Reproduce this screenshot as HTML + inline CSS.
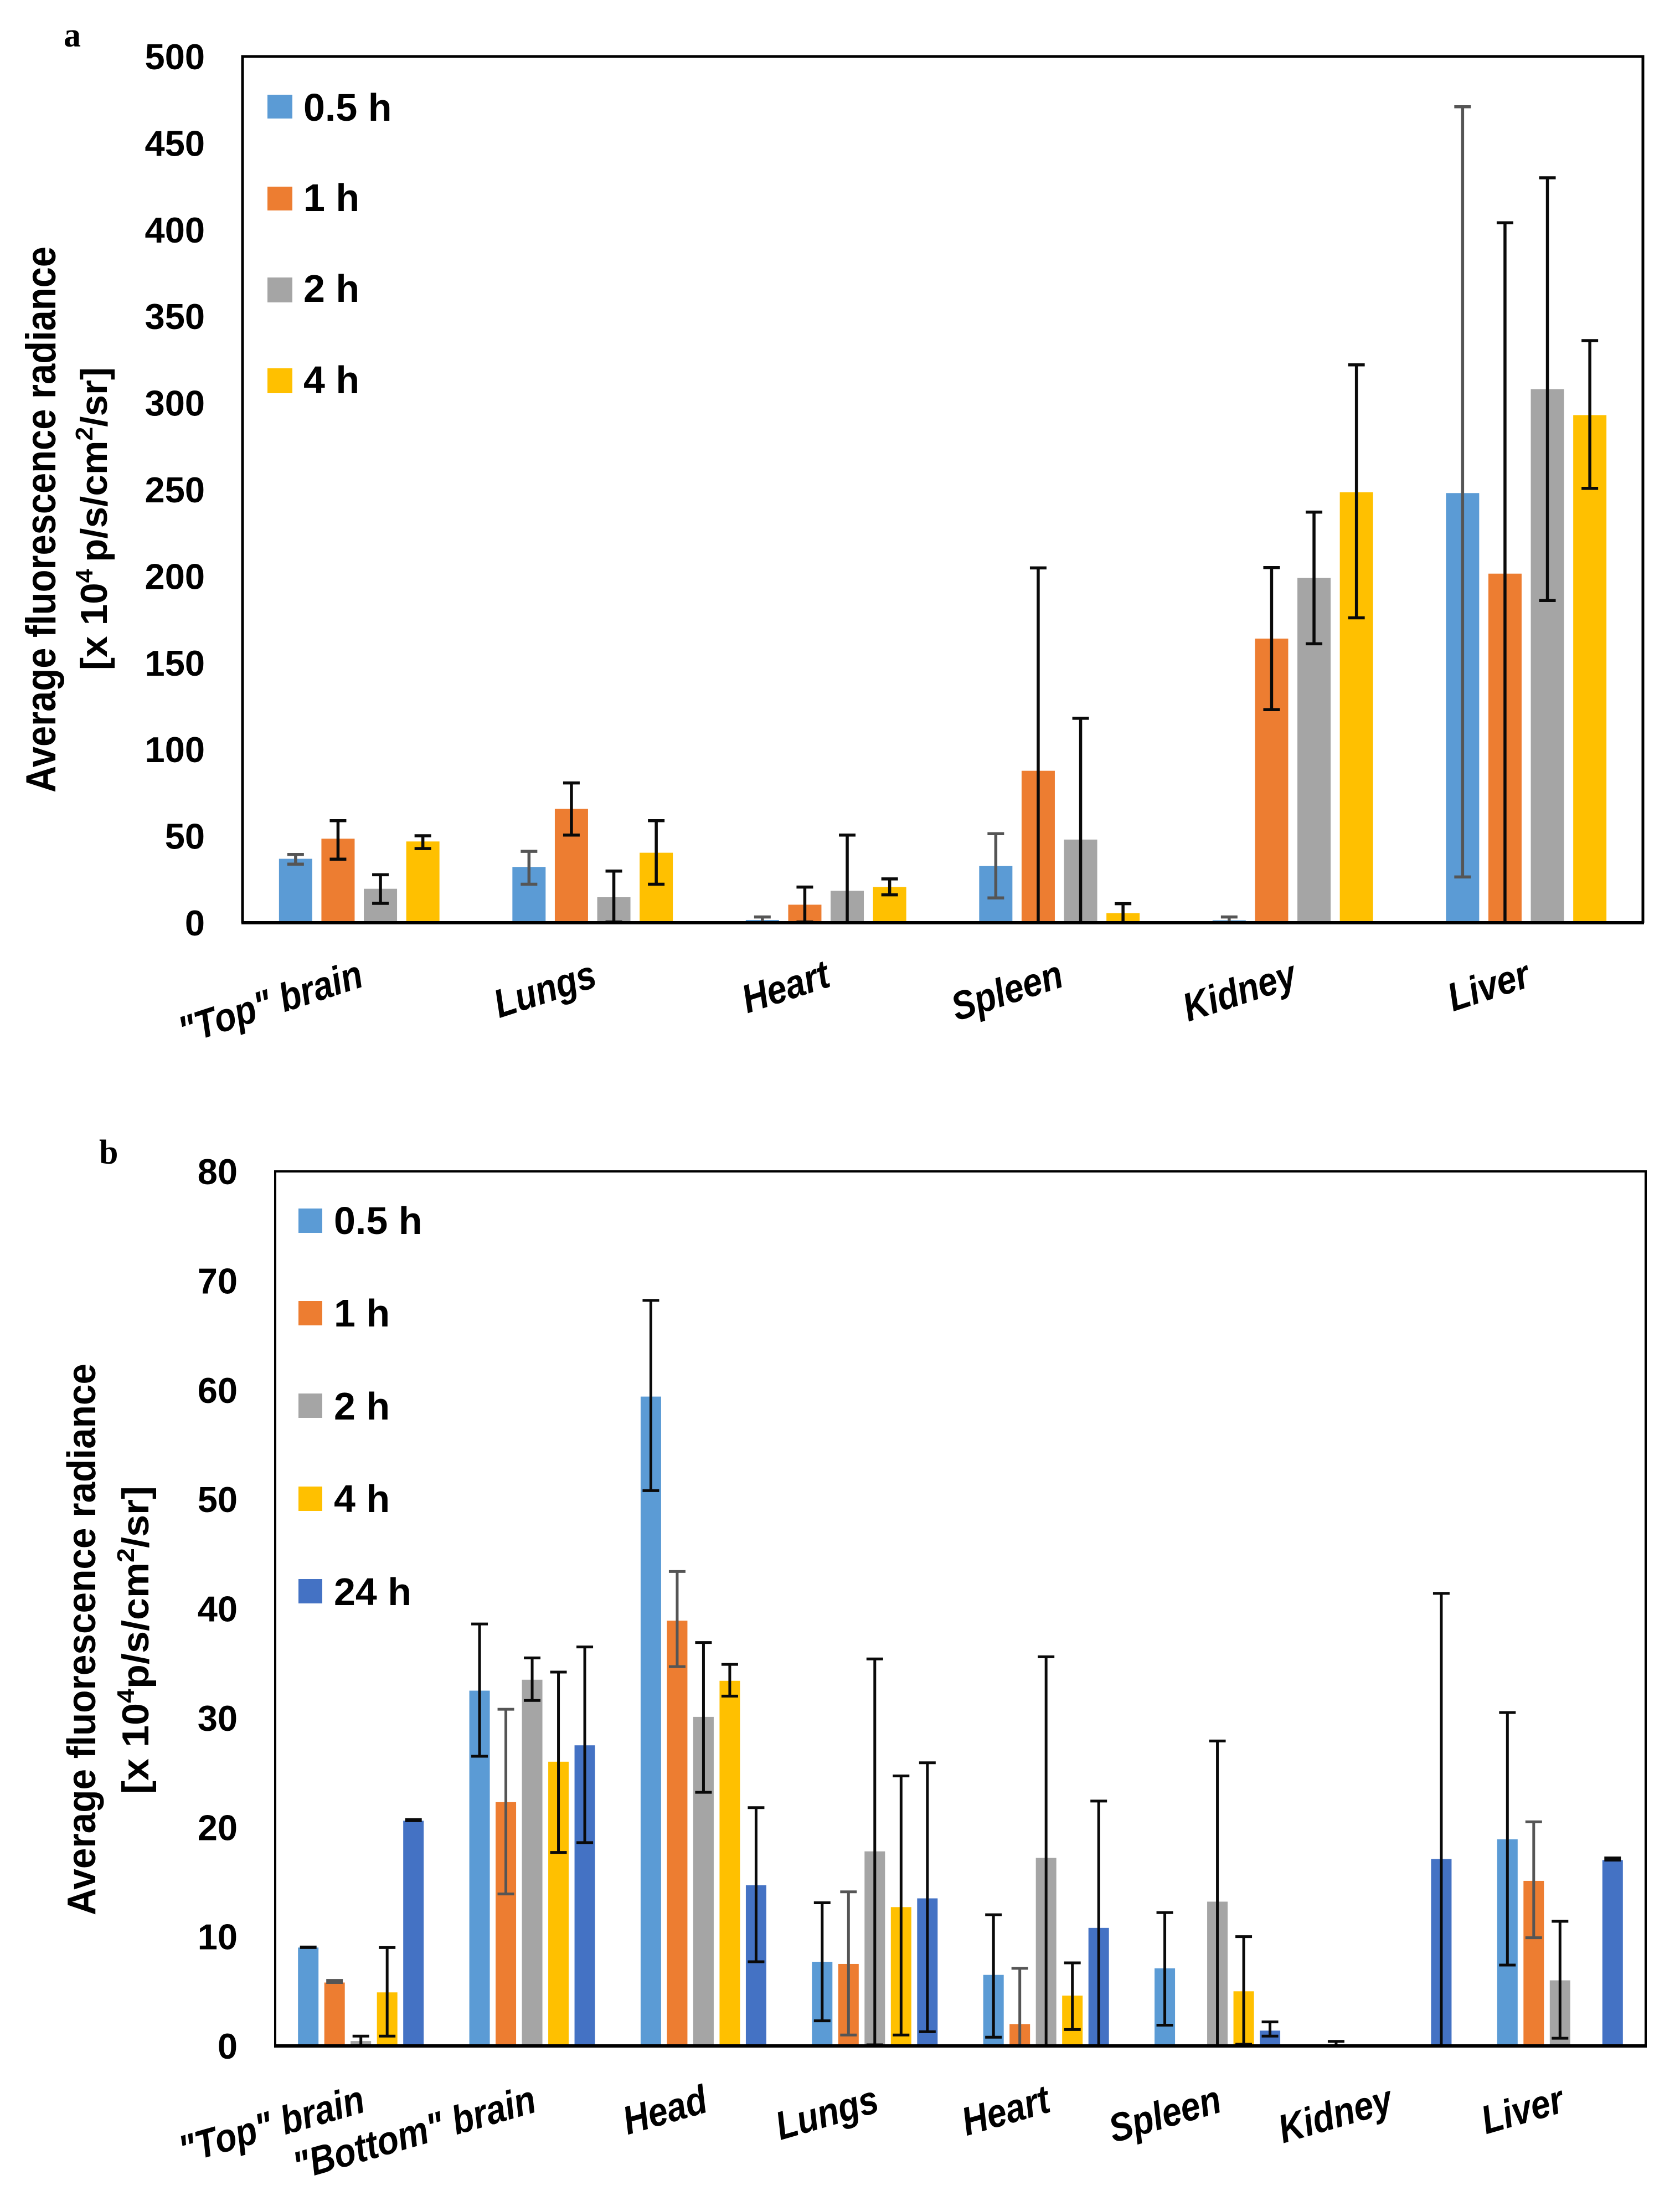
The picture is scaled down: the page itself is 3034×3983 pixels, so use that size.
<!DOCTYPE html>
<html lang="en">
<head>
<meta charset="utf-8">
<title>Average fluorescence radiance by organ and time</title>
<style>
html,body{margin:0;padding:0;background:#fff;}
svg{display:block;}
text{font-family:"Liberation Sans",sans-serif;font-weight:bold;fill:#000;}
</style>
</head>
<body>
<svg id="figure" xmlns="http://www.w3.org/2000/svg" width="3034" height="3983" viewBox="0 0 3034 3983">
<rect x="0" y="0" width="3034" height="3983" fill="#fff"/>

<text x="115" y="84" style="font-family:'Liberation Serif',serif;font-size:62px;">a</text>
<text x="179" y="2101" style="font-family:'Liberation Serif',serif;font-size:62px;">b</text>

<g id="chart-a">
<text transform="translate(100,1431) rotate(-90)" font-size="76" textLength="986" lengthAdjust="spacingAndGlyphs">Average fluorescence radiance</text>
<text transform="translate(193,1210) rotate(-90)" font-size="68" textLength="547" lengthAdjust="spacingAndGlyphs">[x 10<tspan font-size="44" dy="-26">4 </tspan><tspan dy="26">p/s/cm</tspan><tspan font-size="44" dy="-26">2</tspan><tspan dy="26">/sr]</tspan></text>
<g>
<rect x="483" y="171" width="45" height="43" fill="#5B9BD5"/>
<text x="548" y="218" font-size="70">0.5 h</text>
<rect x="483" y="337" width="45" height="43" fill="#ED7D31"/>
<text x="548" y="381" font-size="70">1 h</text>
<rect x="483" y="501" width="45" height="45" fill="#A5A5A5"/>
<text x="548" y="545" font-size="70">2 h</text>
<rect x="483" y="665" width="45" height="45" fill="#FFC000"/>
<text x="548" y="710" font-size="70">4 h</text>
</g>
</g>

<g id="chart-b">
<text transform="translate(172,3458) rotate(-90)" font-size="72" textLength="996" lengthAdjust="spacingAndGlyphs">Average fluorescence radiance</text>
<text transform="translate(268,3239) rotate(-90)" font-size="68" textLength="556" lengthAdjust="spacingAndGlyphs">[x 10<tspan font-size="44" dy="-26">4</tspan><tspan dy="26">p/s/cm</tspan><tspan font-size="44" dy="-26">2</tspan><tspan dy="26">/sr]</tspan></text>
<g>
<rect x="539" y="2182" width="43" height="44" fill="#5B9BD5"/>
<text x="603" y="2228" font-size="70">0.5 h</text>
<rect x="539" y="2349" width="43" height="44" fill="#ED7D31"/>
<text x="603" y="2395" font-size="70">1 h</text>
<rect x="539" y="2516" width="43" height="44" fill="#A5A5A5"/>
<text x="603" y="2563" font-size="70">2 h</text>
<rect x="539" y="2684" width="43" height="44" fill="#FFC000"/>
<text x="603" y="2730" font-size="70">4 h</text>
<rect x="539" y="2851" width="43" height="44" fill="#4472C4"/>
<text x="603" y="2898" font-size="70">24 h</text>
</g>
</g>
</svg>

<script>
// ----- Chart a data -----
const categoriesA = ['"Top" brain', 'Lungs', 'Heart', 'Spleen', 'Kidney', 'Liver'];
const ticksA = [0, 50, 100, 150, 200, 250, 300, 350, 400, 450, 500];
const a05h = [36.9, 32.2, 1.6, 32.7, 1.4, 248];
const a1h = [48.5, 65.7, 10.4, 87.7, 164, 201.5];
const a2h = [19.6, 14.7, 18.4, 48, 199, 308];
const a4h = [46.9, 40.4, 20.6, 5.5, 248.5, 293];
const a05hHigh = [39.4, 41.2, 3.3, 51.4, 3.3, 471];
const a05hLow = [33.8, 22.2, 0, 14.3, 0, 26.4];
const a1hHigh = [58.9, 80.7, 20.6, 204.8, 205, 404];
const a1hLow = [36.7, 50.6, 0.4, 0, 123, 0];
const a2hHigh = [27.7, 29.8, 50.6, 118, 237, 430];
const a2hLow = [11.2, 0.4, 0, 0, 161, 186];
const a4hHigh = [50.2, 58.9, 25.3, 11, 322, 336];
const a4hLow = [42.8, 22.2, 16.1, 0, 176, 250.7];

// ----- Chart b data -----
const categoriesB = ['"Top" brain', '"Bottom" brain', 'Head', 'Lungs', 'Heart', 'Spleen', 'Kidney', 'Liver'];
const ticksB = [0, 10, 20, 30, 40, 50, 60, 70, 80];
const b05h = [9, 32.5, 59.4, 7.7, 6.5, 7.1, 0.1, 18.9];
const b1h = [5.8, 22.3, 38.9, 7.5, 2, 0, 0, 15.1];
const b2h = [0.45, 33.5, 30.1, 17.8, 17.2, 13.2, 0, 6];
const b4h = [4.9, 26, 33.4, 12.7, 4.6, 5, 0, 0];
const b24h = [20.6, 27.5, 14.7, 13.5, 10.8, 1.4, 17.1, 17];
const b05hHigh = [9.05, 38.6, 68.2, 13.1, 12, 12.2, 0.42, 30.5];
const b05hLow = [9, 26.5, 50.8, 2.3, 0.8, 1.9, 0, 7.4];
const b1hHigh = [6.0, 30.8, 43.4, 14.1, 7.1, 0, 0, 20.5];
const b1hLow = [5.8, 13.9, 34.7, 1, 0, 0, 0, 9.9];
const b2hHigh = [0.9, 35.5, 36.9, 35.4, 35.6, 27.9, 0, 11.4];
const b2hLow = [0, 31.6, 23.2, 0.1, 0, 0, 0, 0.7];
const b4hHigh = [9, 34.2, 34.9, 24.7, 7.6, 10, 0, 0];
const b4hLow = [0.9, 17.7, 32, 1, 1.5, 0.15, 0, 0];
const b24hHigh = [20.7, 36.5, 21.8, 25.9, 22.4, 2.2, 41.4, 17.2];
const b24hLow = [20.6, 18.6, 7.7, 1.3, 0, 0.9, 0, 17];

const seriesNamesA = ['0-5h', '1h', '2h', '4h'];
const seriesNamesB = ['0-5h', '1h', '2h', '4h', '24h'];

const NS = 'http://www.w3.org/2000/svg';

function drawChart(cfg) {
  const root = document.getElementById(cfg.id);
  const x0 = cfg.left, x1 = cfg.right, yBase = cfg.bottom, yTop = cfg.top;
  const yScale = function (v) { return yBase - (v / cfg.max) * (yBase - yTop); };
  const catW = (x1 - x0) / cfg.categories.length;
  const catCenter = function (i) { return x0 + catW * (i + 0.5); };
  const n = cfg.values.length;
  const barX = function (i, s) { return catCenter(i) + (s - (n - 1) / 2) * cfg.pitch; };

  // bars
  cfg.values.forEach(function (vals, s) {
    vals.forEach(function (v, i) {
      if (!v) return;
      const r = document.createElementNS(NS, 'rect');
      
      
      r.setAttribute('x', barX(i, s) - cfg.barW / 2);
      r.setAttribute('y', yScale(v));
      r.setAttribute('width', cfg.barW);
      r.setAttribute('height', yBase - yScale(v));
      r.setAttribute('fill', cfg.colors[s]);
      root.appendChild(r);
    });
  });

  // error bars
  cfg.highs.forEach(function (hs, s) {
    hs.forEach(function (h, i) {
      const l = cfg.lows[s][i];
      if (!h) return;
      const g = document.createElementNS(NS, 'path');
      const cx = barX(i, s);
      const yh = yScale(h), yl = yScale(l), c = cfg.capW / 2;
      
      
      g.setAttribute('d', 'M' + cx + ' ' + yh + 'V' + yl + 'M' + (cx - c) + ' ' + yh + 'H' + (cx + c) + 'M' + (cx - c) + ' ' + yl + 'H' + (cx + c));
      g.setAttribute('fill', 'none');
      g.setAttribute('stroke', s === cfg.greySeries ? '#555555' : '#0a0a0a');
      g.setAttribute('stroke-width', cfg.errW);
      root.appendChild(g);
    });
  });

  // frame
  const frame = document.createElementNS(NS, 'path');
  
  
  frame.setAttribute('d', 'M' + x0 + ' ' + yBase + 'V' + yTop + 'H' + x1 + 'V' + yBase);
  frame.setAttribute('fill', 'none');
  frame.setAttribute('stroke', '#000');
  frame.setAttribute('stroke-width', cfg.frameW);
  root.appendChild(frame);

  const base = document.createElementNS(NS, 'line');
  
  
  base.setAttribute('x1', x0 - 2);
  base.setAttribute('x2', x1 + 2);
  base.setAttribute('y1', yBase);
  base.setAttribute('y2', yBase);
  base.setAttribute('stroke', '#000');
  base.setAttribute('stroke-width', 6);
  root.appendChild(base);

  // y ticks
  cfg.ticks.forEach(function (t) {
    const tx = document.createElementNS(NS, 'text');
    
    
    tx.setAttribute('x', cfg.tickRight);
    tx.setAttribute('y', yScale(t) + 23);
    tx.setAttribute('text-anchor', 'end');
    tx.setAttribute('font-size', 65);
    tx.textContent = t;
    root.appendChild(tx);
  });

  // x labels
  cfg.categories.forEach(function (c, i) {
    const tx = document.createElementNS(NS, 'text');
    
    
    tx.setAttribute('text-anchor', 'end');
    tx.setAttribute('font-size', cfg.labelSize);
    tx.setAttribute('font-style', 'italic');
    tx.setAttribute('transform', 'translate(' + (catCenter(i) + 11) + ',' + cfg.labelY + ') rotate(' + cfg.labelAngle + ') scale(1.05,1.2)');
    tx.textContent = c;
    root.appendChild(tx);
  });
}

drawChart({
  id: 'chart-a', left: 438, right: 2967, top: 102, bottom: 1666, max: 500,
  pitch: 76.6, barW: 60, capW: 30, errW: 5.5, frameW: 5, tickRight: 370,
  labelSize: 60, labelY: 1780, labelAngle: -18, greySeries: 0,
  categories: categoriesA, ticks: ticksA, names: seriesNamesA,
  colors: ['#5B9BD5', '#ED7D31', '#A5A5A5', '#FFC000'],
  values: [a05h, a1h, a2h, a4h],
  highs: [a05hHigh, a1hHigh, a2hHigh, a4hHigh],
  lows: [a05hLow, a1hLow, a2hLow, a4hLow]
});

drawChart({
  id: 'chart-b', left: 497, right: 2972, top: 2115, bottom: 3694, max: 80,
  pitch: 47.5, barW: 37, capW: 30, errW: 5, frameW: 4, tickRight: 429,
  labelSize: 60, labelY: 3812, labelAngle: -16, greySeries: 1,
  categories: categoriesB, ticks: ticksB, names: seriesNamesB,
  colors: ['#5B9BD5', '#ED7D31', '#A5A5A5', '#FFC000', '#4472C4'],
  values: [b05h, b1h, b2h, b4h, b24h],
  highs: [b05hHigh, b1hHigh, b2hHigh, b4hHigh, b24hHigh],
  lows: [b05hLow, b1hLow, b2hLow, b4hLow, b24hLow]
});
</script>
</body>
</html>
